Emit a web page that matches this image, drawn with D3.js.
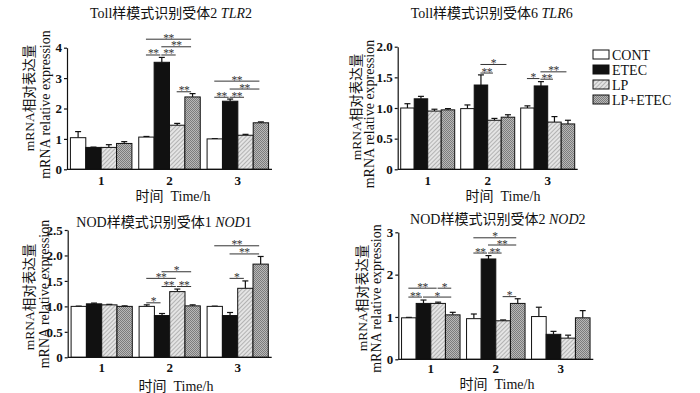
<!DOCTYPE html>
<html>
<head>
<meta charset="utf-8">
<script src="https://cdn.jsdelivr.net/npm/d3@7"></script>
<style>
  body { margin: 0; background: #fff; }
  svg text { font-family: "Liberation Serif", "Noto Sans CJK SC", serif; fill: #111; }
</style>
</head>
<body>
<div id="vis"></div>
<script>
// groups (time points) and treatments
var groups = ["1", "2", "3"];
var treatments = ["CONT", "ETEC", "LP", "LP+ETEC"];

// values per group: [CONT, ETEC, LP, LP+ETEC]
var tlr2_values = [[1.04, 0.72, 0.72, 0.85], [1.06, 3.52, 1.45, 2.38], [1.00, 2.24, 1.12, 1.53]];
var tlr2_errors = [[0.20, 0.01, 0.09, 0.06], [0.02, 0.16, 0.06, 0.11], [0.01, 0.07, 0.03, 0.03]];
var tlr6_values = [[1.00, 1.15, 0.95, 0.97], [0.99, 1.375, 0.80, 0.85], [1.00, 1.36, 0.77, 0.74]];
var tlr6_errors = [[0.07, 0.04, 0.03, 0.02], [0.06, 0.165, 0.03, 0.04], [0.035, 0.07, 0.09, 0.06]];
var nod1_values = [[1.00, 1.05, 1.03, 1.00], [1.00, 0.82, 1.29, 1.01], [1.00, 0.82, 1.355, 1.83]];
var nod1_errors = [[0.005, 0.015, 0.01, 0.01], [0.03, 0.04, 0.05, 0.02], [0.005, 0.06, 0.145, 0.15]];
var nod2_values = [[0.98, 1.32, 1.32, 1.05], [0.96, 2.37, 0.91, 1.32], [1.01, 0.59, 0.50, 0.98]];
var nod2_errors = [[0.01, 0.08, 0.03, 0.06], [0.11, 0.08, 0.02, 0.11], [0.22, 0.07, 0.07, 0.17]];

// significance marks: [group index, from bar, to bar, level, label]
var tlr2_marks = [[1,0,3,4.28,"**"],[1,1,3,4.03,"**"],[1,0,1,3.76,"**"],[1,1,2,3.76,"**"],[1,2,3,2.55,"**"],
                  [2,0,3,2.90,"**"],[2,1,3,2.64,"**"],[2,0,1,2.37,"**"],[2,1,2,2.37,"**"]];
var tlr6_marks = [[1,1,3,1.71,"*"],[1,1,2,1.57,"**"],[2,0,1,1.48,"*"],[2,1,3,1.59,"**"],[2,1,2,1.47,"**"]];
var nod1_marks = [[1,0,1,1.07,"*"],[1,1,3,1.68,"*"],[1,0,2,1.55,"**"],[1,1,2,1.39,"**"],[1,2,3,1.39,"**"],
                  [2,0,3,2.19,"**"],[2,1,3,2.03,"**"],[2,1,2,1.55,"*"]];
var nod2_marks = [[0,0,2,1.68,"**"],[0,2,3,1.68,"*"],[0,0,1,1.47,"**"],[0,1,3,1.47,"*"],
                  [1,0,3,2.87,"*"],[1,1,3,2.70,"**"],[1,0,1,2.51,"**"],[1,1,2,2.51,"**"],[1,2,3,1.48,"*"]];

var tlr2_ticks = [0, 1, 2, 3, 4];
var tlr6_ticks = [0, 0.5, 1.0, 1.5, 2.0];
var nod1_ticks = [0, 0.5, 1.0, 1.5, 2.0, 2.5];
var nod2_ticks = [0, 1, 2, 3];

var ylabel_cn = "mRNA相对表达量";
var ylabel_en = "mRNA relative expression";
var xlabel = "时间  Time/h";

var panels = [
  {values: tlr2_values, errors: tlr2_errors, marks: tlr2_marks, ticks: tlr2_ticks, fmt: d3.format("d"),
   title: ["Toll样模式识别受体2 ", "TLR", "2"], x0: 67, x1: 272, yb: 169.3, yt: 47.7,
   tx: 171, ty: 17.5, l1: [29, 98], l2: [45, 104.5], xt: [173, 201], gy: 185},
  {values: tlr6_values, errors: tlr6_errors, marks: tlr6_marks, ticks: tlr6_ticks, fmt: function(d){ return d === 0 ? "0" : d3.format(".1f")(d); },
   title: ["Toll样模式识别受体6 ", "TLR", "6"], x0: 397.7, x1: 577.7, yb: 169.3, yt: 46.7,
   tx: 491.7, ty: 18.3, l1: [356, 107], l2: [369, 114], xt: [503, 201], gy: 185},
  {values: nod1_values, errors: nod1_errors, marks: nod1_marks, ticks: nod1_ticks, fmt: function(d){ return d === 0 ? "0" : d3.format(".1f")(d); },
   title: ["NOD样模式识别受体1 ", "NOD", "1"], x0: 67.7, x1: 271.7, yb: 357.3, yt: 230,
   tx: 164, ty: 226.7, l1: [29, 297], l2: [44, 294], xt: [176, 391], gy: 372},
  {values: nod2_values, errors: nod2_errors, marks: nod2_marks, ticks: nod2_ticks, fmt: d3.format("d"),
   title: ["NOD样模式识别受体2 ", "NOD", "2"], x0: 398.3, x1: 593.3, yb: 359.3, yt: 232.3,
   tx: 497.8, ty: 224.3, l1: [362, 298], l2: [376, 298.5], xt: [497, 389], gy: 373}
];

var width = 700, height = 393;
var svg = d3.select("#vis").append("svg").attr("width", width).attr("height", height);

// fill patterns
var defs = svg.append("defs");
var lp = defs.append("pattern").attr("id", "lp").attr("patternUnits", "userSpaceOnUse")
  .attr("width", 3).attr("height", 3).attr("patternTransform", "rotate(45)");
lp.append("rect").attr("width", 3).attr("height", 3).attr("fill", "#e4e4e4");
lp.append("line").attr("x1", 0).attr("y1", 0).attr("x2", 0).attr("y2", 3).attr("stroke", "#8a8a8a").attr("stroke-width", 1.1);
var lpe = defs.append("pattern").attr("id", "lpe").attr("patternUnits", "userSpaceOnUse")
  .attr("width", 2).attr("height", 2);
lpe.append("rect").attr("width", 2).attr("height", 2).attr("fill", "#b8b8b8");
lpe.append("rect").attr("width", 1).attr("height", 1).attr("fill", "#7c7c7c");
lpe.append("rect").attr("x", 1).attr("y", 1).attr("width", 1).attr("height", 1).attr("fill", "#7c7c7c");

var fills = {"CONT": "#fff", "ETEC": "#111", "LP": "url(#lp)", "LP+ETEC": "url(#lpe)"};

panels.forEach(function(p) {
  var g = svg.append("g");
  var x = d3.scaleBand().domain(groups).range([p.x0, p.x1]).paddingInner(0.1).paddingOuter(0.05);
  var xs = d3.scaleBand().domain(treatments).range([0, x.bandwidth()]);
  var y = d3.scaleLinear().domain([0, p.ticks[p.ticks.length - 1]]).range([p.yb, p.yt]);

  var rows = [];
  groups.forEach(function(gr, gi) {
    treatments.forEach(function(t, ti) {
      rows.push({group: gr, t: t, v: p.values[gi][ti], e: p.errors[gi][ti]});
    });
  });

  // error bars
  var eb = g.selectAll(".err").data(rows).enter().append("g");
  eb.append("line")
    .attr("x1", function(d) { return x(d.group) + xs(d.t) + xs.bandwidth() / 2; })
    .attr("x2", function(d) { return x(d.group) + xs(d.t) + xs.bandwidth() / 2; })
    .attr("y1", function(d) { return y(d.v); })
    .attr("y2", function(d) { return y(d.v + d.e); })
    .attr("stroke", "#111").attr("stroke-width", 1.2);
  eb.append("line")
    .attr("x1", function(d) { return x(d.group) + xs(d.t) + xs.bandwidth() / 2 - 3; })
    .attr("x2", function(d) { return x(d.group) + xs(d.t) + xs.bandwidth() / 2 + 3; })
    .attr("y1", function(d) { return y(d.v + d.e); })
    .attr("y2", function(d) { return y(d.v + d.e); })
    .attr("stroke", "#111").attr("stroke-width", 1.2);

  // bars
  g.selectAll("rect.bar").data(rows).enter().append("rect")
    .attr("class", "bar")
    .attr("x", function(d) { return x(d.group) + xs(d.t); })
    .attr("y", function(d) { return y(d.v); })
    .attr("width", xs.bandwidth())
    .attr("height", function(d) { return y(0) - y(d.v); })
    .attr("fill", function(d) { return fills[d.t]; })
    .attr("stroke", "#111").attr("stroke-width", 1);

  // axes
  var ya = g.append("g").attr("transform", "translate(" + p.x0 + ",0)")
    .call(d3.axisLeft(y).tickValues(p.ticks).tickFormat(p.fmt).tickSize(3).tickSizeOuter(0));
  ya.selectAll("path, line").attr("stroke", "#111").attr("stroke-width", 1.2);
  ya.selectAll("text").attr("font-size", 13).attr("font-weight", "bold").attr("x", -5)
    .style("font-family", "'Liberation Serif', serif");
  var xa = g.append("g").attr("transform", "translate(0," + p.yb + ")")
    .call(d3.axisBottom(x).tickSize(0).tickSizeOuter(0));
  xa.select("path").attr("stroke", "#111").attr("stroke-width", 1.2)
    .attr("d", "M" + p.x0 + ",0H" + p.x1);
  xa.selectAll("text").attr("font-size", 13).attr("font-weight", "bold")
    .attr("y", p.gy - p.yb).attr("dy", 0)
    .style("font-family", "'Liberation Serif', serif");

  // significance marks
  var cx = function(gi, bi) { return x(groups[gi]) + xs(treatments[bi]) + xs.bandwidth() / 2; };
  var mk = g.selectAll(".mk").data(p.marks).enter().append("g");
  mk.append("line")
    .attr("x1", function(d) { return cx(d[0], d[1]) - 0.5; })
    .attr("x2", function(d) { return cx(d[0], d[2]) - 1.5; })
    .attr("y1", function(d) { return y(d[3]); })
    .attr("y2", function(d) { return y(d[3]); })
    .attr("stroke", "#333").attr("stroke-width", 1);
  mk.append("text")
    .attr("x", function(d) { return (cx(d[0], d[1]) + cx(d[0], d[2])) / 2 - 1; })
    .attr("y", function(d) { return y(d[3]) + 2.5; })
    .attr("text-anchor", "middle").attr("font-size", 11.5).attr("letter-spacing", -0.5)
    .style("fill", "#333")
    .text(function(d) { return d[4]; });

  // title
  var t = g.append("text").attr("x", p.tx).attr("y", p.ty).attr("text-anchor", "middle").attr("font-size", 14);
  t.append("tspan").text(p.title[0]);
  t.append("tspan").attr("font-style", "italic").text(p.title[1]);
  t.append("tspan").text(p.title[2]);

  // y labels
  g.append("text").attr("transform", "translate(" + p.l1[0] + "," + p.l1[1] + ") rotate(-90)")
    .attr("text-anchor", "middle").attr("dy", "0.35em").attr("font-size", 13.5).text(ylabel_cn);
  g.append("text").attr("transform", "translate(" + p.l2[0] + "," + p.l2[1] + ") rotate(-90)")
    .attr("text-anchor", "middle").attr("dy", "0.35em").attr("font-size", 14).text(ylabel_en);

  // x label
  g.append("text").attr("x", p.xt[0]).attr("y", p.xt[1]).attr("text-anchor", "middle")
    .attr("font-size", 14).attr("xml:space", "preserve").text(xlabel);
});

// legend
var ly = d3.scalePoint().domain(treatments).range([54.5, 99.5]);
var lg = svg.append("g").selectAll("g").data(treatments).enter().append("g");
lg.append("rect").attr("x", 593).attr("y", function(d) { return ly(d) - 4.5; })
  .attr("width", 16).attr("height", 9)
  .attr("fill", function(d) { return fills[d]; }).attr("stroke", "#111").attr("stroke-width", 1);
lg.append("text").attr("x", 612).attr("y", function(d) { return ly(d) + 5; })
  .attr("font-size", 14).text(function(d) { return d; });
</script>
</body>
</html>
